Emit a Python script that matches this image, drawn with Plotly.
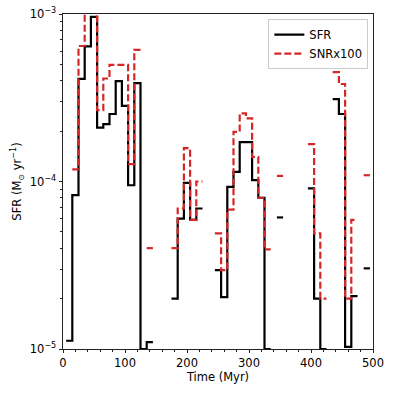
import plotly.graph_objects as go

# bin centres (Myr), 10 Myr wide bins
time_myr = list(range(10, 500, 10))

# SFR (Msun/yr), None = empty bin
sfr = [
    1.12e-5, 8.3e-5, 4.1e-4, 6.4e-4, 9.6e-4, 2.1e-4, 2.2e-4, 2.53e-4, 3.97e-4, 2.83e-4,   # 10-100
    9.5e-5, 3.87e-4, 1.0e-5, 1.1e-5, None, None, None, 2.0e-5, 6.0e-5, 9.8e-5,           # 110-200
    5.9e-5, 6.9e-5, None, None, 2.96e-5, 2.04e-5, 9.3e-5, 1.14e-4, 1.72e-4, 1.72e-4,     # 210-300
    1.02e-4, 8.0e-5, 1.0e-5, None, 6.1e-5, None, None, None, None, 9.1e-5,               # 310-400
    2.0e-5, 1.0e-5, None, 3.1e-4, 2.53e-4, 1.03e-5, 2.07e-5, None, 3.03e-5,              # 410-490
]

# supernova rate x100
snr100 = [
    None, 1.18e-4, 6.44e-4, 1.3e-3, 1.3e-3, 2.67e-4, 4.12e-4, 4.97e-4, 4.97e-4, 4.97e-4,  # 10-100
    1.27e-4, 6.1e-4, None, 4.0e-5, None, None, None, 4.0e-5, 6.9e-5, 1.58e-4,           # 110-200
    5.9e-5, 1.0e-4, None, None, 4.9e-5, 2.96e-5, 6.8e-5, 1.98e-4, 2.55e-4, 2.38e-4,     # 210-300
    1.4e-4, 8.0e-5, 3.93e-5, None, 1.08e-4, None, None, None, None, 1.67e-4,            # 310-400
    4.9e-5, 2.0e-5, None, 4.5e-4, 3.82e-4, 2.0e-5, 5.9e-5, None, 1.09e-4,               # 410-490
]

x_ticks = [0, 100, 200, 300, 400, 500]
y_ticks = [1e-5, 1e-4, 1e-3]
y_ticktext = ["10<sup>\u22125</sup>", "10<sup>\u22124</sup>", "10<sup>\u22123</sup>"]


def step_path(centers, values, width=10):
    """Turn binned values into a step outline, breaking at empty bins."""
    xs, ys = [], []
    for c, v in zip(centers, values):
        if v is None:
            if xs and xs[-1] is not None:
                xs.append(None)
                ys.append(None)
            continue
        xs += [c - width / 2, c + width / 2]
        ys += [v, v]
    return xs, ys


fig = go.Figure()

sx, sy = step_path(time_myr, sfr)
fig.add_trace(go.Scatter(
    x=sx, y=sy, mode="lines", name="SFR",
    line=dict(color="black", width=2.2), connectgaps=False,
))

rx, ry = step_path(time_myr, snr100)
fig.add_trace(go.Scatter(
    x=rx, y=ry, mode="lines", name="SNRx100",
    line=dict(color="#d62728", width=2.2, dash="7px,3px"), connectgaps=False,
))

minor_y = [m * 10 ** e for e in (-5, -4) for m in range(2, 10)]

fig.update_layout(
    width=395, height=395,
    margin=dict(l=63, r=22, t=14, b=46),
    paper_bgcolor="white", plot_bgcolor="white",
    font=dict(family="DejaVu Sans", size=11.5, color="black"),
    showlegend=True,
    legend=dict(
        x=0.985, y=0.985, xanchor="right", yanchor="top",
        bgcolor="rgba(255,255,255,0.8)", bordercolor="#cccccc", borderwidth=1,
        font=dict(family="DejaVu Sans", size=11.5, color="black"),
        itemwidth=30, tracegroupgap=2,
    ),
    xaxis=dict(
        range=[0, 500], tickvals=x_ticks,
        ticks="outside", ticklen=3.5, tickwidth=0.8, tickcolor="#222",
        showline=True, linecolor="#222", linewidth=0.9, mirror=True,
        showgrid=False, zeroline=False, automargin=False,
        minor=dict(tickvals=list(range(20, 500, 20)), ticks="outside",
                   ticklen=2, tickwidth=0.6, tickcolor="#222"),
        title=dict(text="Time (Myr)", font=dict(size=11.5), standoff=3),
        tickfont=dict(size=11.5),
    ),
    yaxis=dict(
        type="log", range=[-5, -3],
        tickvals=y_ticks, ticktext=y_ticktext,
        ticks="outside", ticklen=3.5, tickwidth=0.8, tickcolor="#222",
        showline=True, linecolor="#222", linewidth=0.9, mirror=True,
        showgrid=False, zeroline=False, automargin=False,
        minor=dict(tickvals=minor_y, ticks="outside",
                   ticklen=2, tickwidth=0.6, tickcolor="#222"),
        title=dict(text="SFR (M<sub>\u2299</sub> yr<sup>\u22121</sup>)",
                   font=dict(size=11.5), standoff=5),
        tickfont=dict(size=11.5),
    ),
)

fig.write_html(
    "out.html",
    config={"displayModeBar": False},
    post_script="document.body.style.margin='0px';",
)
